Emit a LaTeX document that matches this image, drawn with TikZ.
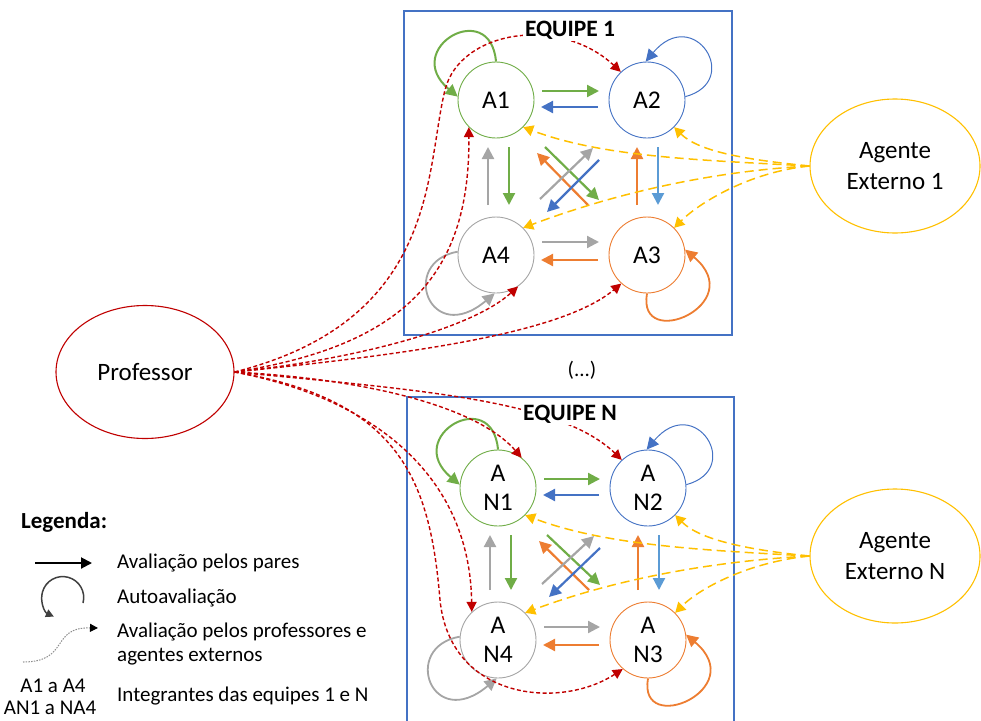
\documentclass[tikz,border=0pt]{standalone}
\usepackage{fontspec}
\setmainfont{Carlito}
\usetikzlibrary{arrows.meta,shapes.geometric}

\definecolor{cgreen}{HTML}{70AD47}
\definecolor{cblue}{HTML}{4472C4}
\definecolor{clblue}{HTML}{5B9BD5}
\definecolor{cgray}{HTML}{A5A5A5}
\definecolor{corange}{HTML}{ED7D31}
\definecolor{cgold}{HTML}{FFC000}
\definecolor{cred}{HTML}{C00000}
\definecolor{cframe}{HTML}{4472C4}

\tikzset{
  member/.style={circle,draw,line width=0.9pt,fill=white,minimum size=76pt,inner sep=0pt,
    font=\fontsize{25.5}{29}\selectfont,align=center},
  agent/.style={ellipse,draw,line width=1.1pt,fill=white,inner sep=0pt,
    font=\fontsize{25}{31}\selectfont,align=center},
  peer/.style={line width=2.2pt,-{Triangle[length=12pt,width=12pt]}},
  selfloop/.style={-{Triangle[length=12pt,width=12pt]}},
  profline/.style={cred,line width=1.4pt,dash pattern=on 4pt off 2.5pt,-{Triangle[length=10pt,width=10pt]}},
  extline/.style={cgold,line width=1.5pt,dash pattern=on 9pt off 5pt,-{Triangle[length=10pt,width=11pt]}},
  teamframe/.style={draw=cframe,line width=1.2pt},
  teamtitle/.style={font=\fontsize{23.5}{28}\selectfont\bfseries,fill=white,inner sep=2pt},
  legendtext/.style={anchor=west,font=\fontsize{21}{25}\selectfont,inner sep=0pt},
}

\begin{document}
\begin{tikzpicture}[x=1pt,y=1pt]
\useasboundingbox (0,0) rectangle (981,-720);

% team frames
\draw[teamframe] (404,-11) rectangle (732,-335);
\draw[teamframe] (407,-397) rectangle (734,-730);

% team members
\node[member,draw=cgreen]  (a1) at (496,-100) {A1};
\node[member,draw=cblue]   (a2) at (647,-100) {A2};
\node[member,draw=corange] (a3) at (647,-255) {A3};
\node[member,draw=cgray]   (a4) at (496,-255) {A4};

\node[member,draw=cgreen]  (n1) at (498,-488) {A\\N1};
\node[member,draw=cblue]   (n2) at (648,-488) {A\\N2};
\node[member,draw=corange] (n3) at (648,-640) {A\\N3};
\node[member,draw=cgray]   (n4) at (498,-640) {A\\N4};

% professor and external agents
\node[agent,draw=cred,minimum width=178pt,minimum height=133pt] (prof) at (145,-372) {Professor};
\node[agent,draw=cgold,minimum width=170pt,minimum height=134pt] (ext1) at (895,-166) {Agente\\Externo 1};
\node[agent,draw=cgold,minimum width=170pt,minimum height=134pt] (extn) at (895,-556) {Agente\\Externo N};

% peer and self assessment inside each team
\foreach \t in {a,n} {
  % horizontal pairs
  \draw[peer,cgreen]  ([shift={(46pt,9pt)}]\t1.center) -- ([shift={(-48pt,9pt)}]\t2.center);
  \draw[peer,cblue]   ([shift={(-49pt,-7pt)}]\t2.center) -- ([shift={(45pt,-7pt)}]\t1.center);
  \draw[peer,cgray]   ([shift={(46pt,13pt)}]\t4.center) -- ([shift={(-48pt,13pt)}]\t3.center);
  \draw[peer,corange] ([shift={(-49pt,-5pt)}]\t3.center) -- ([shift={(45pt,-5pt)}]\t4.center);
  % vertical pairs
  \draw[peer,cgreen]  ([shift={(13pt,-47pt)}]\t1.center) -- ([shift={(13pt,50pt)}]\t4.center);
  \draw[peer,cgray]   ([shift={(-8pt,50pt)}]\t4.center) -- ([shift={(-8pt,-47pt)}]\t1.center);
  \draw[peer,clblue]  ([shift={(11pt,-47pt)}]\t2.center) -- ([shift={(11pt,50pt)}]\t3.center);
  \draw[peer,corange] ([shift={(-10pt,50pt)}]\t3.center) -- ([shift={(-10pt,-47pt)}]\t2.center);
  % diagonals
  \draw[peer,cgreen]  ([shift={(49pt,-47pt)}]\t1.center) -- ([shift={(-48pt,55pt)}]\t3.center);
  \draw[peer,corange] ([shift={(-59pt,50pt)}]\t3.center) -- ([shift={(41pt,-53pt)}]\t1.center);
  \draw[peer,cgray]   ([shift={(44pt,56pt)}]\t4.center) -- ([shift={(-54pt,-48pt)}]\t2.center);
  \draw[peer,cblue]   ([shift={(-48pt,-60pt)}]\t2.center) -- ([shift={(51pt,43pt)}]\t4.center);
  % self assessment loops
  \draw[selfloop,cgreen,line width=2pt] (\t1.90) .. controls +(95:65) and +(140:75) .. (\t1.175);
  \draw[selfloop,cblue,line width=1pt] (\t2.5) .. controls +(15:60) and +(50:75) .. (\t2.92);
  \draw[selfloop,cgray,line width=1.8pt] (\t4.175) .. controls +(190:60) and +(220:85) .. (\t4.268);
  \draw[selfloop,corange,line width=1.8pt] (\t3.270) .. controls +(260:60) and +(320:85) .. (\t3.8);
}

% professor assessment, team 1
\draw[profline] (prof.east) .. controls (440,-320) and (425,-170) .. (445,-90)
                .. controls (460,-30) and (560,-15) .. (a2.133);
\draw[profline] (prof.east) .. controls (410,-345) and (470,-270) .. (a1.225);
\draw[profline] (prof.east) .. controls (350,-360) and (470,-330) .. (a4.305);
\draw[profline] (prof.east) .. controls (400,-355) and (560,-335) .. (a3.228);

% professor assessment, team N
\draw[profline] (prof.east) .. controls (420,-390) and (560,-400) .. (n2.133);
\draw[profline] (prof.east) .. controls (380,-380) and (480,-410) .. (n1.52);
\draw[profline] (prof.east) .. controls (380,-400) and (470,-480) .. (n4.133);
\draw[profline] (prof.east) .. controls (400,-400) and (430,-480) .. (440,-600)
                .. controls (450,-700) and (560,-710) .. (n3.229);

% external agent assessment
\foreach \e/\t in {ext1/a,extn/n} {
  \draw[extline] (\e.west) .. controls +(-110,6) and +(80,-30) .. (\t1.315);
  \draw[extline] (\e.west) .. controls +(-110,-6) and +(80,30) .. (\t4.45);
  \draw[extline] (\e.west) .. controls +(-60,6) and +(25,-25) .. (\t2.315);
  \draw[extline] (\e.west) .. controls +(-60,-6) and +(25,25) .. (\t3.45);
}

% team titles
\node[teamtitle] (title1) at (570,-30) {EQUIPE 1};
\node[teamtitle] (titlen) at (570,-414) {EQUIPE N};
\node[font=\fontsize{21}{25}\selectfont] (dots) at (582,-370) {(...)};

% legend
\node[anchor=west,font=\fontsize{23}{27}\selectfont\bfseries,inner sep=0pt] (leghead) at (21,-522) {Legenda:};
\coordinate (lpa) at (35,-563);
\coordinate (lpb) at (92,-563);
\draw[line width=2pt,-{Triangle[length=11pt,width=11pt]}] (lpa) -- (lpb);
\node[legendtext] (lt1) at (117,-563) {Avaliação pelos pares};
\coordinate (lsa) at (83,-603);
\draw[black!75,line width=1.5pt,-{Triangle[length=8pt,width=8pt]}] (lsa) arc[start angle=-15,end angle=245,radius=21];
\node[legendtext] (lt2) at (117,-598) {Autoavaliação};
\coordinate (lda) at (23,-662);
\coordinate (ldb) at (98,-628);
\draw[black!45,line width=1pt,dash pattern=on 1.5pt off 1.2pt,-{Triangle[length=8pt,width=8pt,fill=black,color=black]}]
  (lda) .. controls (70,-662) and (50,-627) .. (ldb);
\node[legendtext] (lt3) at (117,-632) {Avaliação pelos professores e};
\node[legendtext] (lt4) at (117,-657) {agentes externos};
\node[font=\fontsize{21}{25}\selectfont,inner sep=0pt] (lm1) at (53,-686) {A1 a A4};
\node[font=\fontsize{21}{25}\selectfont,inner sep=0pt] (lm2) at (50,-708) {AN1 a NA4};
\node[legendtext] (lt5) at (117,-696) {Integrantes das equipes 1 e N};
\end{tikzpicture}
\end{document}
